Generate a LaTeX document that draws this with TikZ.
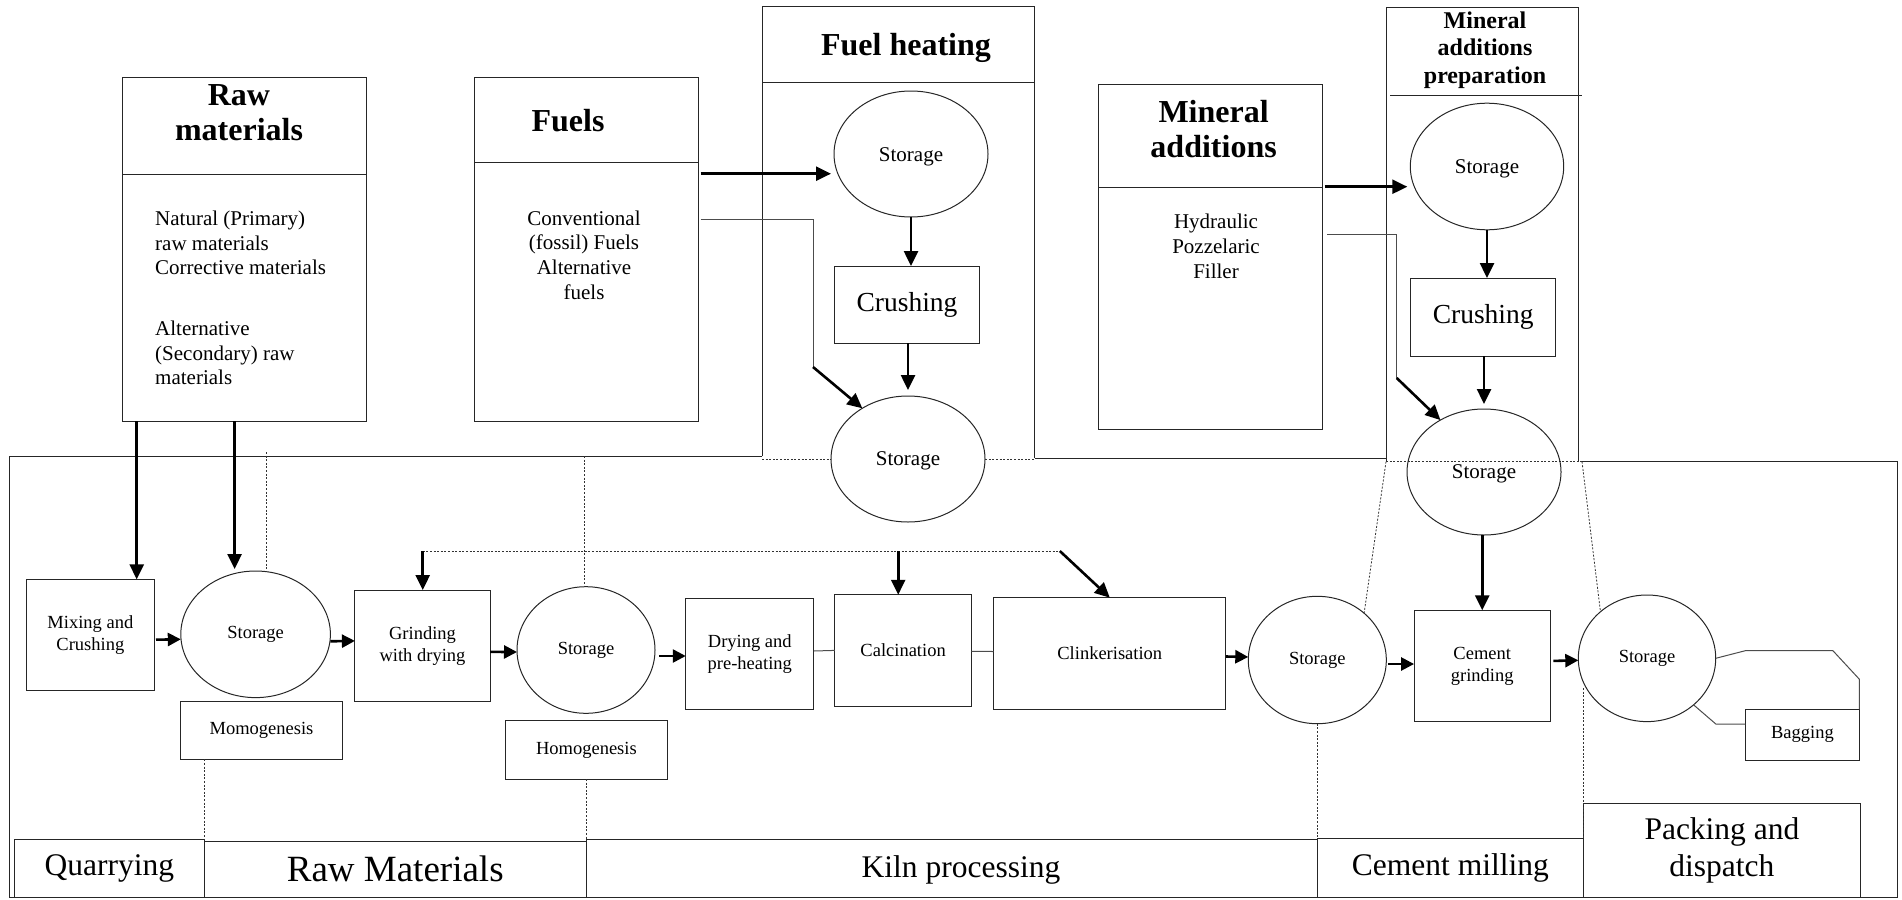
\documentclass[tikz,border=0pt]{standalone}
\usepackage{fontspec}
\setmainfont{Liberation Serif}
\usetikzlibrary{arrows.meta,shapes.geometric}
\newcommand{\myfs}[2]{\fontsize{#1}{#2}\selectfont}
\begin{document}
\begin{tikzpicture}[x=1pt,y=-1pt,
  ln/.style={draw=black!85, line width=1pt},
  boxn/.style={ln, rectangle, inner sep=0pt, outer sep=0pt, align=center},
  ell/.style={ln, ellipse, inner sep=0pt, outer sep=0pt, align=center},
  dotl/.style={draw=black!80, line width=0.8pt, dash pattern=on 2pt off 1.6pt},
  thinl/.style={draw=black!70, line width=1pt},
  tarr/.style={draw=black, line width=2.6pt, -{Triangle[length=15pt,width=14pt]}},
  sarr/.style={draw=black, line width=2.6pt, -{Triangle[length=13pt,width=13pt]}},
  ttl/.style={font=\myfs{32}{35}\bfseries, align=center, inner sep=0pt},
  bodyl/.style={font=\myfs{21}{24.7}, align=left, anchor=west, inner sep=0pt},
  bodyc/.style={font=\myfs{21}{24.7}, align=center, inner sep=0pt},
  mid/.style={font=\myfs{21}{24}},
  crs/.style={font=\myfs{27.5}{30}},
  sm/.style={font=\myfs{18.5}{22}},
  big/.style={font=\myfs{31.5}{37}},
  lbl/.style={inner sep=0pt},
]
\useasboundingbox (0,0) rectangle (1902,899);

% ---------------- top row
\node[boxn, minimum width=243.8pt, minimum height=344pt] (rawbox) at (244.5,249) {};
\draw[ln] (rawbox.west |- 0,174) -- (rawbox.east |- 0,174);
\node[ttl] (rawttl) at (239,113) {Raw\\materials};
\node[bodyl] (rawb1) at (155,243) {Natural (Primary)\\raw materials\\Corrective materials};
\node[bodyl] (rawb2) at (155,353) {Alternative\\(Secondary) raw\\materials};

\node[boxn, minimum width=224pt, minimum height=344pt] (fuelbox) at (586.5,249) {};
\draw[ln] (fuelbox.west |- 0,162) -- (fuelbox.east |- 0,162);
\node[ttl] (fuelttl) at (568,121) {Fuels};
\node[bodyc] (fuelb) at (584,255) {Conventional\\(fossil) Fuels\\Alternative\\fuels};

% fuel heating
\draw[ln] (762,456) -- (762,7) -- (1034.5,7) -- (1034.5,458);
\draw[ln] (762,82) -- (1034.5,82);
\draw[dotl] (762,459) -- (1034.5,459);
\node[ttl] (fhttl) at (906,48) {Fuel heating};
\node[ell, minimum width=154pt, minimum height=126pt] (stor1) at (911,154) {};
\node[lbl, mid] (stor1t) at (911,156.5) {Storage};
\node[boxn, crs, minimum width=145.7pt, minimum height=77pt] (crush1) at (907,304.5) {Crushing};
\node[ell, fill=white, minimum width=154pt, minimum height=126pt] (stor2) at (908,459) {};
\node[lbl, mid] (stor2t) at (908,461) {Storage};

% mineral additions
\node[boxn, minimum width=223.8pt, minimum height=344.7pt] (minbox) at (1210.6,256.65) {};
\draw[ln] (minbox.west |- 0,187.7) -- (minbox.east |- 0,187.7);
\node[ttl] (minttl) at (1213.6,129) {Mineral\\additions};
\node[bodyc] (minb) at (1216,246.4) {Hydraulic\\Pozzelaric\\Filler};

% mineral additions preparation
\draw[ln] (1386,461.7) -- (1386,7.3) -- (1578.7,7.3) -- (1578.7,461.7);
\draw[ln] (1390,95) -- (1581.7,95);
\coordinate (mapbl) at (1386,461.7);
\coordinate (mapbr) at (1582,461.7);
\draw[dotl] (mapbl) -- (mapbr);
\node[font=\myfs{24}{27.7}\bfseries, align=center, inner sep=0pt] (mapttl) at (1485,50) {Mineral\\additions\\preparation};
\node[ell, minimum width=153.4pt, minimum height=126.6pt] (stor3) at (1487,166.5) {};
\node[lbl, mid] (stor3t) at (1487,168.5) {Storage};
\node[boxn, crs, minimum width=145pt, minimum height=78pt] (crush2) at (1483.2,317) {Crushing};
\node[ell, minimum width=154pt, minimum height=126pt] (stor4) at (1484,472) {};
\node[lbl, mid] (stor4t) at (1484,474) {Storage};

% main frame
\draw[ln] (762,456) -- (9.8,456) -- (9.8,897.5) -- (1897,897.5) -- (1897,461.7) -- (mapbr);
\draw[ln] (1034.5,458) -- (1386,458);

% ---------------- process row
\node[boxn, sm, minimum width=128.2pt, minimum height=110.7pt] (mix) at (90.4,634.7) {Mixing and\\Crushing};
\node[ell, sm, minimum width=149.6pt, minimum height=126.6pt] (storA) at (255.6,634.3) {Storage};
\node[boxn, sm, minimum width=162.5pt, minimum height=58.3pt] (momo) at (261.5,730.2) {Momogenesis};
\node[boxn, sm, minimum width=135.2pt, minimum height=111.7pt] (grind) at (422.5,645.9) {Grinding\\with drying};
\node[ell, sm, minimum width=138pt, minimum height=126.6pt] (storB) at (586,650) {Storage};
\node[boxn, sm, minimum width=162.1pt, minimum height=58.3pt] (homo) at (586.4,749.9) {Homogenesis};
\node[boxn, sm, minimum width=128.1pt, minimum height=110.6pt] (dry) at (749.8,654) {Drying and\\pre-heating};
\node[boxn, sm, minimum width=136.6pt, minimum height=111.3pt] (calc) at (903.1,650.4) {Calcination};
\node[boxn, sm, minimum width=232.2pt, minimum height=111.6pt] (clink) at (1109.8,653.5) {Clinkerisation};
\node[ell, sm, minimum width=138pt, minimum height=127.4pt] (storC) at (1317.3,660) {Storage};
\node[boxn, sm, minimum width=136.3pt, minimum height=111.4pt] (cem) at (1482.2,666) {Cement\\grinding};
\node[ell, sm, minimum width=137.4pt, minimum height=126.6pt] (storD) at (1647,658.3) {Storage};
\node[boxn, sm, minimum width=114.1pt, minimum height=50.7pt] (bag) at (1802.4,734.7) {Bagging};

% ---------------- stage labels
\node[boxn, big, minimum width=190.2pt, minimum height=58.5pt] (quarry) at (109.4,868.25) {Quarrying};
\node[boxn, font=\myfs{37}{40}, minimum width=381.5pt, minimum height=56.5pt] (rawmat) at (395.25,869.25) {Raw Materials};
\node[boxn, minimum width=731.3pt, minimum height=58.5pt] (kiln) at (951.65,868.25) {};
\node[big, inner sep=0pt] (kilnt) at (961,870) {Kiln processing};
\node[boxn, big, minimum width=266pt, minimum height=59.2pt] (cmill) at (1450.3,867.9) {Cement milling};
\node[boxn, big, minimum width=277.2pt, minimum height=94pt] (pack) at (1721.9,850.4) {Packing and\\dispatch};

% ---------------- connectors
\coordinate (r1) at (136.7,421);
\coordinate (r2) at (234.6,421);
\draw[tarr] (r1) -- (r1 |- mix.north);
\draw[tarr, shorten >=2pt] (r2) -- (r2 |- storA.north);

\coordinate (fo1) at (700.5,173.7);
\draw[tarr, shorten >=3pt] (fo1) -- (fo1 -| stor1.west);
\coordinate (fo2) at (700.5,219);
\coordinate (fb1) at (813,367);
\draw[thinl] (fo2) -- (fo2 -| fb1) -- (fb1);
\draw[tarr] (fb1) -- (stor2.132);

\coordinate (mo1) at (1324.5,186.7);
\draw[tarr, shorten >=3pt] (mo1) -- (mo1 -| stor3.west);
\coordinate (mo2) at (1327,234.3);
\coordinate (mb1) at (1396.7,378);
\draw[thinl] (mo2) -- (mo2 -| mb1) -- (mb1);
\draw[tarr] (mb1) -- (stor4.130);

\draw[tarr] (stor1.south) -- (stor1.south |- crush1.north);
\draw[tarr, shorten >=6pt] (crush1.south -| stor2.north) -- (stor2.north);
\draw[tarr] (stor3.south) -- (stor3.south |- crush2.north);
\draw[tarr, shorten >=5pt] (crush2.south -| stor4.north) -- (stor4.north);
\draw[tarr] (stor4.south -| cem.north) -- (cem.north);

\coordinate (d1) at (266.5,452);
\draw[dotl] (d1) -- (d1 |- storA.north);
\coordinate (d2) at (584,456);
\draw[dotl] (d2) -- (d2 |- storB.north);

\coordinate (fbL) at (422.7,551);
\coordinate (fbM) at (898.2,551);
\coordinate (fbR) at (1059.8,551);
\draw[dotl] (fbL) -- (fbR);
\draw[tarr] (fbL) -- (fbL |- grind.north);
\draw[tarr] (fbM) -- (fbM |- calc.north);
\draw[tarr] (fbR) -- (clink.north);

\draw[sarr, shorten <=1.5pt] ([yshift=-5pt]mix.east) -- ([yshift=-5pt]storA.west);
\draw[sarr] ([yshift=-7pt]storA.east) -- ([yshift=5pt]grind.west);
\draw[sarr] ([yshift=-6pt]grind.east) -- ([yshift=-2pt]storB.west);
\draw[sarr, shorten <=4pt] ([yshift=-6pt]storB.east) -- ([yshift=-2pt]dry.west);
\draw[thinl] ([yshift=3pt]dry.east) -- (calc.west);
\draw[thinl] ([yshift=-1pt]calc.east) -- ([yshift=2pt]clink.west);
\draw[sarr] ([yshift=-3pt]clink.east) -- ([yshift=3pt]storC.west);
\draw[sarr, shorten <=2pt] ([yshift=-4pt]storC.east) -- ([yshift=2pt]cem.west);
\draw[sarr, shorten <=3pt] ([yshift=5pt]cem.east) -- ([yshift=-2pt]storD.west);

\draw[thinl] (storD.east) -- (1745.3,650.7) -- (1832.9,650.7) -- (1859.4,679.3) -- (bag.north east);
\draw[thinl] (storD.-45) -- (1715.8,724) -- (bag.west |- 0,724);

\draw[dotl] (momo.south -| quarry.north east) -- (quarry.north east);
\draw[dotl] (homo.south) -- (homo.south |- kiln.north);
\draw[dotl] (storC.south) -- (storC.south |- cmill.north);
\coordinate (d3) at (1583.3,688);
\draw[dotl] (d3) -- (d3 |- cmill.north);
\draw[dotl] (mapbl) -- (storC.45);
\draw[dotl] (mapbr) -- (storD.135);
\end{tikzpicture}
\end{document}
